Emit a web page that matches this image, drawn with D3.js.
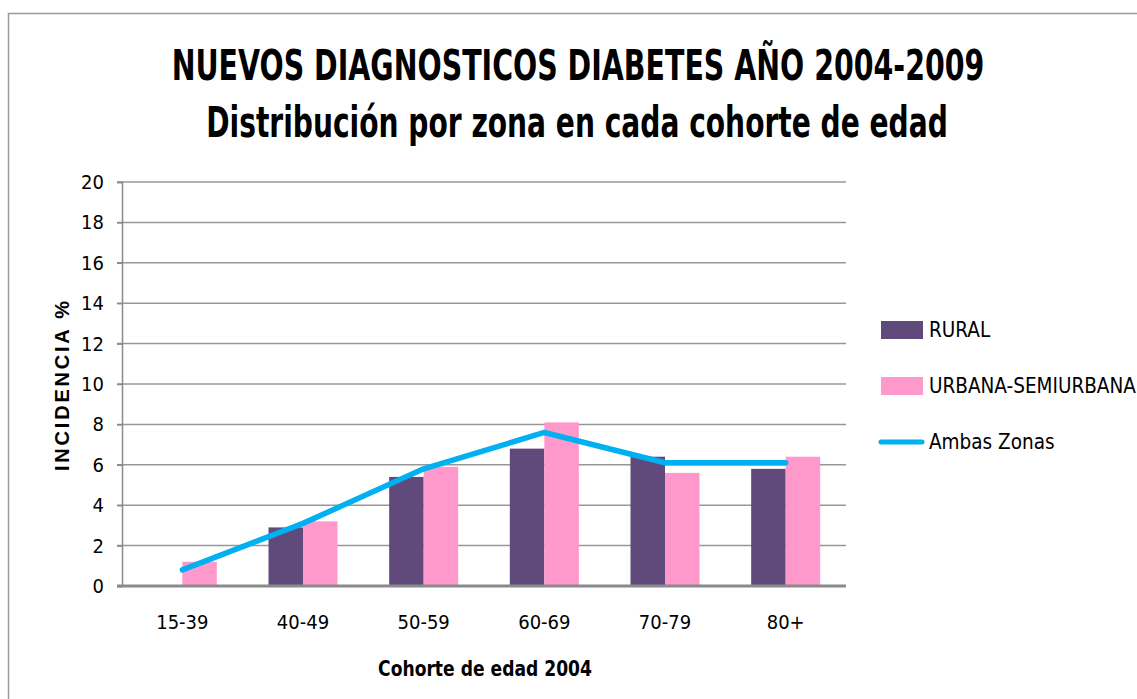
<!DOCTYPE html>
<html>
<head>
<meta charset="utf-8">
<style>
  body{
    margin: 0;
    background: white;
    font-family: 'DejaVu Sans Condensed', 'Open Sans', sans-serif;
  }
</style>
</head>
<body>
<svg id='svgVis'></svg>

<script src="https://cdn.jsdelivr.net/npm/d3@7/dist/d3.min.js"></script>
<script>

// data
var categories = ['15-39', '40-49', '50-59', '60-69', '70-79', '80+'];
var rural = [0, 2.9, 5.4, 6.8, 6.4, 5.8];
var urbana = [1.2, 3.2, 5.9, 8.1, 5.6, 6.4];
var ambas = [0.8, 3.1, 5.8, 7.6, 6.1, 6.1];
var yTicks = [0, 2, 4, 6, 8, 10, 12, 14, 16, 18, 20];
var seriesNames = ['RURAL', 'URBANA-SEMIURBANA', 'Ambas Zonas'];

var width = 1137, height = 699;
var narrow = "'DejaVu Sans Condensed', 'Open Sans', sans-serif";

var svg = d3.select('#svgVis')
    .attr('width', width)
    .attr('height', height);

// outer frame (runs off the right and bottom edge)
svg.append('rect')
  .attr('x', 8.5).attr('y', 13.5)
  .attr('width', 1200).attr('height', 800)
  .style('fill', 'none')
  .style('stroke', '#9a9a9a')
  .style('stroke-width', 1.5);

var margin = {top: 182, left: 122, right: 846, bottom: 586};

var x = d3.scaleBand()
    .domain(categories)
    .range([margin.left, margin.right]);

var y = d3.scaleLinear()
    .domain([0, 20])
    .range([margin.bottom, margin.top]);

// grid lines
svg.append('g')
  .selectAll('line')
  .data(yTicks.slice(1))
  .enter()
  .append('line')
  .attr('x1', 117).attr('x2', margin.right)
  .attr('y1', function(d) { return y(d); })
  .attr('y2', function(d) { return y(d); })
  .style('stroke', '#979797')
  .style('stroke-width', 1.5);

// y axis
var yAxis = svg.append('g')
  .attr('transform', 'translate(' + margin.left + ',0)')
  .call(d3.axisLeft(y).tickValues(yTicks).tickSize(5).tickPadding(13));

yAxis.select('.domain').style('stroke', '#8a8a8a').style('stroke-width', 1.5);
yAxis.selectAll('.tick line').style('stroke', '#8a8a8a').style('stroke-width', 1.5);
yAxis.selectAll('text')
  .style('font-family', narrow)
  .style('font-size', '20px')
  .style('fill', '#000');

// bars
var inner = 34.5;

svg.append('g')
  .selectAll('rect')
  .data(categories)
  .enter()
  .append('rect')
  .attr('x', function(d) { return x(d) + x.bandwidth() / 2 - inner; })
  .attr('y', function(d, i) { return y(rural[i]); })
  .attr('width', inner)
  .attr('height', function(d, i) { return y(0) - y(rural[i]); })
  .style('fill', '#604a7b');

svg.append('g')
  .selectAll('rect')
  .data(categories)
  .enter()
  .append('rect')
  .attr('x', function(d) { return x(d) + x.bandwidth() / 2; })
  .attr('y', function(d, i) { return y(urbana[i]); })
  .attr('width', inner)
  .attr('height', function(d, i) { return y(0) - y(urbana[i]); })
  .style('fill', '#ff99cc');

// x axis
var xAxis = svg.append('g')
  .attr('transform', 'translate(0,' + margin.bottom + ')')
  .call(d3.axisBottom(x).tickSize(0).tickPadding(29));

xAxis.select('.domain').attr('d', 'M117,0H' + margin.right)
  .style('stroke', '#8a8a8a').style('stroke-width', 3);
xAxis.selectAll('text')
  .style('font-family', narrow)
  .style('font-size', '20px')
  .style('fill', '#000');

// line
var line = d3.line()
  .x(function(d, i) { return x(categories[i]) + x.bandwidth() / 2; })
  .y(function(d) { return y(d); });

svg.append('path')
  .datum(ambas)
  .attr('d', line)
  .style('fill', 'none')
  .style('stroke', '#00b0f0')
  .style('stroke-width', 5.5)
  .style('stroke-linecap', 'round')
  .style('stroke-linejoin', 'round');

// titles: squeeze horizontally to the width seen in the picture
function fitTitle(txt, cx, by, size, w) {
  var t = svg.append('text')
    .attr('text-anchor', 'middle')
    .style('font-size', size + 'px')
    .style('font-weight', 'bold')
    .text(txt);
  var len = t.node().getComputedTextLength();
  t.attr('transform', 'translate(' + cx + ',' + by + ') scale(' + (w / len) + ',1)');
  return t;
}

fitTitle('NUEVOS DIAGNOSTICOS DIABETES AÑO 2004-2009', 578, 80, 42, 813);
fitTitle('Distribución por zona en cada cohorte de edad', 577, 137, 42, 742);
fitTitle('Cohorte de edad 2004', 485, 676, 21, 214);

svg.append('text')
  .attr('transform', 'translate(69,386) rotate(-90)')
  .attr('text-anchor', 'middle')
  .attr('textLength', 170).attr('lengthAdjust', 'spacing')
  .style('font-family', "'Liberation Sans', Arial, sans-serif")
  .style('font-size', '20px')
  .style('font-weight', 'bold')
  .text('INCIDENCIA %');

// legend
var legend = svg.append('g');
var legendY = [330, 386, 442];

legend.append('rect')
  .attr('x', 881).attr('y', legendY[0] - 9)
  .attr('width', 42).attr('height', 18)
  .style('fill', '#604a7b');

legend.append('rect')
  .attr('x', 881).attr('y', legendY[1] - 9)
  .attr('width', 42).attr('height', 18)
  .style('fill', '#ff99cc');

legend.append('line')
  .attr('x1', 881).attr('x2', 922)
  .attr('y1', legendY[2]).attr('y2', legendY[2])
  .style('stroke', '#00b0f0')
  .style('stroke-width', 5)
  .style('stroke-linecap', 'round');

legend.selectAll('text')
  .data(seriesNames)
  .enter()
  .append('text')
  .attr('x', 929)
  .attr('y', function(d, i) { return legendY[i] + 7; })
  .style('font-size', '20.5px')
  .text(function(d) { return d; });

</script>
</body>
</html>
